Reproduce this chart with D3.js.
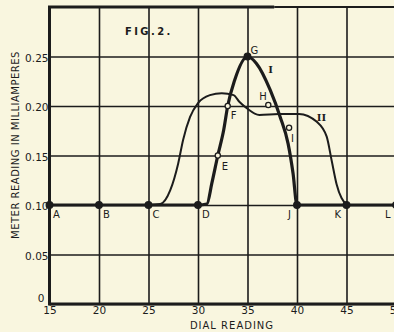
<!DOCTYPE html>
<html>
<head>
<meta charset="utf-8">
<script src="https://cdn.jsdelivr.net/npm/d3@7"></script>
<style>
  html, body { margin: 0; padding: 0; background: #f9f6df; }
  svg { display: block; }
  text { font-family: "DejaVu Sans", sans-serif; fill: #1c1c1c; }
</style>
</head>
<body>
<svg id="chart" width="394" height="332"></svg>
<script>
// ---- data ----
const xTicks = [15, 20, 25, 30, 35, 40, 45, 50];
const yTicks = [0, 0.05, 0.10, 0.15, 0.20, 0.25];
const yTickLabels = ["0", "0.05", "0.10", "0.15", "0.20", "0.25"];

// Curve I (thick): dial reading vs meter reading
const curve1X = [15, 20, 25, 30, 30.9, 31.4, 32, 32.6, 33, 33.7, 35, 35.9, 37.3, 38.3, 39.1, 39.6, 40, 45, 50];
const curve1Y = [0.10, 0.10, 0.10, 0.10, 0.101, 0.122, 0.15, 0.176, 0.20, 0.226, 0.25, 0.243, 0.216, 0.189, 0.162, 0.132, 0.10, 0.10, 0.10];

// Curve II (thin)
const curve2X = [25, 26.2, 27.2, 28, 28.5, 29.2, 30, 31.2, 32.4, 33.6, 34.2, 34.9, 36.2, 38.2, 40.2, 42, 43, 43.5, 44, 45];
const curve2Y = [0.10, 0.101, 0.115, 0.142, 0.166, 0.189, 0.203, 0.211, 0.213, 0.211, 0.204, 0.198, 0.191, 0.192, 0.192, 0.184, 0.169, 0.145, 0.121, 0.10];

// Lettered points
const pointNames = ["A", "B", "C", "D", "E", "F", "G", "H", "I", "J", "K", "L"];
const pointX = [15, 20, 25, 30, 32, 33, 35, 37.1, 39.2, 40, 45, 50];
const pointY = [0.10, 0.10, 0.10, 0.10, 0.15, 0.20, 0.25, 0.201, 0.178, 0.10, 0.10, 0.10];
const pointFilled = [true, true, true, true, false, false, true, false, false, true, true, true];

const curveNames = ["I", "II"];
const curveLabelX = [37.1, 42.0];
const curveLabelY = [0.233, 0.185];

const title = "FIG.2.";
const xTitle = "DIAL READING";
const yTitle = "METER READING IN MILLIAMPERES";

// ---- layout ----
const svg = d3.select("#chart");
const x = d3.scaleLinear().domain([15, 50]).range([49.5, 396]);
const y = d3.scaleLinear().domain([0, 0.30]).range([304, 7]);
const ink = "#1c1c1c";

// grid via axes
const gx = svg.append("g")
  .attr("transform", `translate(0,${y(0)})`)
  .call(d3.axisBottom(x).tickValues(xTicks).tickSize(-(y(0) - y(0.30))).tickPadding(5)
    .tickFormat(d => String(d)));
gx.select(".domain").remove();
gx.selectAll(".tick line").attr("stroke", ink).attr("stroke-width", 1.6);
gx.selectAll(".tick text").attr("font-size", 10.5).attr("fill", ink).attr("dy", "0.5em")
  .attr("font-family", "DejaVu Sans");

const gy = svg.append("g")
  .attr("transform", `translate(${x(15)},0)`)
  .call(d3.axisLeft(y).tickValues(yTicks).tickSize(-(x(50) - x(15))).tickPadding(1)
    .tickFormat((d, i) => yTickLabels[i]));
gy.select(".domain").remove();
gy.selectAll(".tick line").attr("stroke", ink).attr("stroke-width", 1.6);
gy.selectAll(".tick text").attr("font-size", 10.5).attr("fill", ink)
  .attr("dy", d => d === 0 ? "-0.25em" : "0.45em")
  .attr("x", d => d === 0 ? -5 : -1)
  .attr("font-family", "DejaVu Sans");

// frame: left, bottom, top
svg.append("line").attr("x1", x(15)).attr("x2", x(15)).attr("y1", y(0.30)).attr("y2", y(0) + 1.5)
  .attr("stroke", ink).attr("stroke-width", 3);
svg.append("line").attr("x1", x(15)).attr("x2", x(50)).attr("y1", y(0)).attr("y2", y(0))
  .attr("stroke", ink).attr("stroke-width", 3);
svg.append("line").attr("x1", x(15) - 1.5).attr("x2", x(37.7)).attr("y1", y(0.30)).attr("y2", y(0.30))
  .attr("stroke", ink).attr("stroke-width", 3);
svg.append("line").attr("x1", x(37.7)).attr("x2", x(50)).attr("y1", y(0.30)).attr("y2", y(0.30))
  .attr("stroke", ink).attr("stroke-width", 2);

// curves
const line = d3.line().x(d => x(d[0])).y(d => y(d[1])).curve(d3.curveMonotoneX);
svg.append("path").datum(d3.zip(curve2X, curve2Y)).attr("d", line)
  .attr("fill", "none").attr("stroke", ink).attr("stroke-width", 2);
svg.append("path").datum(d3.zip(curve1X, curve1Y)).attr("d", line)
  .attr("fill", "none").attr("stroke", ink).attr("stroke-width", 3.2);

// points
const pts = d3.range(pointNames.length).map(i => ({
  name: pointNames[i], x: pointX[i], y: pointY[i], filled: pointFilled[i]
}));
svg.selectAll("circle.pt").data(pts).enter().append("circle")
  .attr("class", "pt")
  .attr("cx", d => x(d.x)).attr("cy", d => y(d.y))
  .attr("r", d => d.filled ? 3.3 : 2.6)
  .attr("fill", d => d.filled ? ink : "#f9f6df")
  .attr("stroke", ink).attr("stroke-width", 1.3);

// point labels (offsets in px)
const labelOffset = {
  A: [3.5, 13], B: [4, 13], C: [4, 13], D: [4, 13], E: [4, 14], F: [3, 13],
  G: [3, -3], H: [-9, -5], I: [2, 14], J: [-9, 13], K: [-12, 13], L: [-11, 13]
};
svg.selectAll("text.pl").data(pts).enter().append("text")
  .attr("class", "pl")
  .attr("x", d => x(d.x) + labelOffset[d.name][0])
  .attr("y", d => y(d.y) + labelOffset[d.name][1])
  .attr("font-size", 10)
  .text(d => d.name);

// curve labels (roman numerals)
svg.selectAll("text.cl").data(curveNames).enter().append("text")
  .attr("class", "cl")
  .attr("x", (d, i) => x(curveLabelX[i]))
  .attr("y", (d, i) => y(curveLabelY[i]))
  .attr("font-weight", "bold")
  .attr("font-size", 10)
  .style("font-family", "'DejaVu Serif', serif")
  .text(d => d);

// title
svg.append("text").attr("x", 125).attr("y", 35)
  .attr("font-size", 10).attr("font-weight", "bold").attr("letter-spacing", 2.4)
  .text(title);

// axis titles
svg.append("text").attr("x", 232).attr("y", 329).attr("text-anchor", "middle")
  .attr("font-size", 10).attr("letter-spacing", 1)
  .text(xTitle);
svg.append("text")
  .attr("transform", `translate(19,145) rotate(-90)`)
  .attr("text-anchor", "middle")
  .attr("font-size", 10).attr("letter-spacing", 0.5)
  .text(yTitle);
</script>
</body>
</html>
